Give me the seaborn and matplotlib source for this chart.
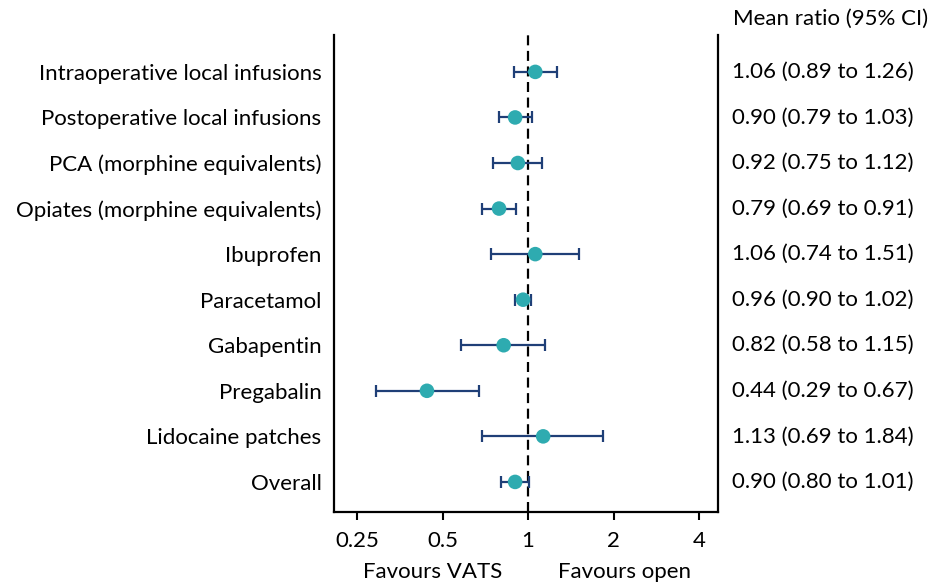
import matplotlib
matplotlib.use("Agg")
import matplotlib.pyplot as plt
import seaborn as sns
import pandas as pd
import numpy as np

categories = [
    "Intraoperative local infusions",
    "Postoperative local infusions",
    "PCA (morphine equivalents)",
    "Opiates (morphine equivalents)",
    "Ibuprofen",
    "Paracetamol",
    "Gabapentin",
    "Pregabalin",
    "Lidocaine patches",
    "Overall",
]
estimates = [1.06, 0.90, 0.92, 0.79, 1.06, 0.96, 0.82, 0.44, 1.13, 0.90]
lower = [0.89, 0.79, 0.75, 0.69, 0.74, 0.90, 0.58, 0.29, 0.69, 0.80]
upper = [1.26, 1.03, 1.12, 0.91, 1.51, 1.02, 1.15, 0.67, 1.84, 1.01]
tick_values = [0.25, 0.5, 1, 2, 4]
tick_labels = ["0.25", "0.5", "1", "2", "4"]
header = "Mean ratio (95% CI)"

sns.set_theme(style="white")
plt.rcParams["font.family"] = ["Lato", "DejaVu Sans"]
plt.rcParams["text.color"] = "black"
plt.rcParams["xtick.color"] = "black"
plt.rcParams["ytick.color"] = "black"
plt.rcParams["xtick.labelcolor"] = "black"
plt.rcParams["ytick.labelcolor"] = "black"

FS = 16

df = pd.DataFrame({"cat": categories, "est": estimates, "lo": lower, "hi": upper})
df["y"] = np.arange(len(df))

fig = plt.figure(figsize=(9.32, 5.86), dpi=100)
ax = fig.add_axes([0.3584, 0.1263, 0.412, 0.814])

navy = "#1F3F77"
teal = "#2EABB0"

ax.axvline(1, color="black", linestyle=(0, (4.5, 2.5)), linewidth=1.6, zorder=1)
ax.errorbar(df["est"], df["y"],
            xerr=[df["est"] - df["lo"], df["hi"] - df["est"]],
            fmt="none", ecolor=navy, elinewidth=1.6, capsize=4.5, capthick=1.6, zorder=2)
sns.scatterplot(data=df, x="est", y="y", ax=ax, color=teal, s=110,
                edgecolor="none", zorder=3, legend=False)

ax.set_xscale("log")
ax.set_xlim(0.207, 4.67)
ax.set_ylim(9.66, -0.81)
ax.set_xticks(tick_values)
ax.set_xticklabels(tick_labels)
ax.minorticks_off()
ax.set_yticks(df["y"])
ax.set_yticklabels(df["cat"])
ax.set_xlabel("")
ax.set_ylabel("")

ax.tick_params(axis="x", which="major", length=6, width=1.5, color="black",
               labelsize=FS, pad=8, bottom=True, labelcolor="black")
ax.tick_params(axis="y", length=0, labelsize=FS, pad=9, labelcolor="black")

for side in ["left", "right", "bottom"]:
    ax.spines[side].set_visible(True)
    ax.spines[side].set_color("black")
    ax.spines[side].set_linewidth(1.6)
ax.spines["top"].set_visible(False)

for yi, e, l, h in zip(df["y"], estimates, lower, upper):
    ax.text(1.036, yi, f"{e:.2f} ({l:.2f} to {h:.2f})", transform=ax.get_yaxis_transform(),
            ha="left", va="center", fontsize=FS, color="black")
fig.text(733 / 932, 1 - 19 / 586, header, ha="left", va="center", fontsize=FS, color="black")
fig.text(433 / 932, 1 - 572 / 586, "Favours VATS", ha="center", va="center", fontsize=FS, color="black")
fig.text(624 / 932, 1 - 572 / 586, "Favours open", ha="center", va="center", fontsize=FS, color="black")

fig.savefig("out.png", dpi=100, facecolor="white")
